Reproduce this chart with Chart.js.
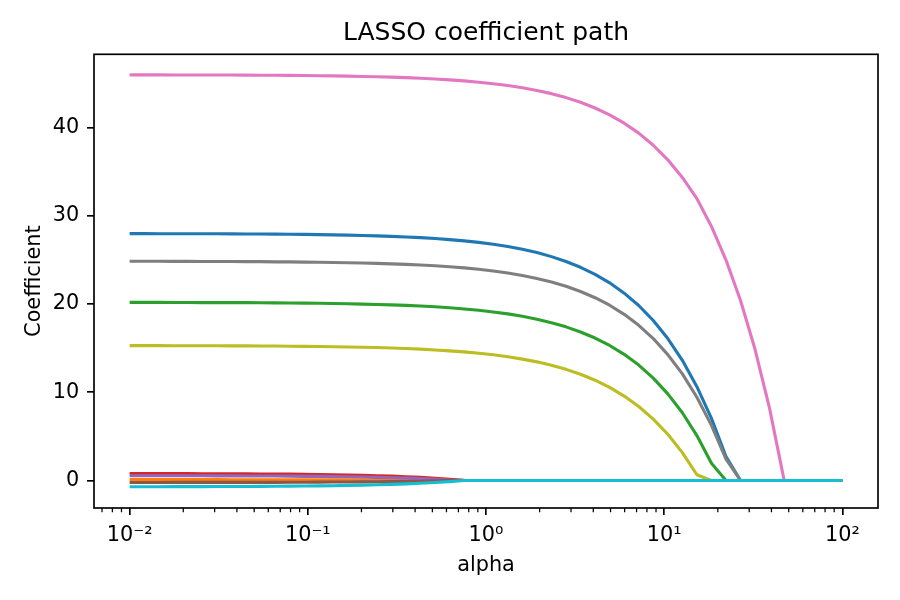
<!DOCTYPE html>
<html>
<head>
<meta charset="utf-8">
<script src="https://cdn.jsdelivr.net/npm/chart.js@4.4.1/dist/chart.umd.min.js"></script>
<style>
  html, body { margin: 0; padding: 0; background: #ffffff; }
  #wrap { width: 900px; height: 600px; }
</style>
</head>
<body>
<div id="wrap"><canvas id="c" width="900" height="600"></canvas></div>
<script>
// ---- data ----
const alphas = [0.01, 0.01207, 0.01456, 0.01758, 0.02121, 0.0256, 0.03089, 0.03728, 0.04498, 0.05429,
  0.06551, 0.07906, 0.09541, 0.1151, 0.1389, 0.1677, 0.2024, 0.2442, 0.2947, 0.3556,
  0.4292, 0.5179, 0.6251, 0.7543, 0.9103, 1.0985, 1.3257, 1.5999, 1.9307, 2.33,
  2.8118, 3.3932, 4.0949, 4.9417, 5.9636, 7.1969, 8.6851, 10.481, 12.649, 15.264,
  18.421, 22.23, 26.827, 32.375, 39.069, 47.149, 56.899, 68.665, 82.864, 100];

const coefBlue = [27.99, 27.99, 27.98, 27.98, 27.98, 27.97, 27.97, 27.96, 27.95, 27.94,
  27.93, 27.91, 27.90, 27.87, 27.85, 27.82, 27.78, 27.73, 27.68, 27.61,
  27.53, 27.43, 27.31, 27.17, 27.00, 26.79, 26.53, 26.22, 25.84, 25.38,
  24.83, 24.17, 23.37, 22.41, 21.24, 19.84, 18.14, 16.09, 13.62, 10.64,
  7.04, 2.70, 0, 0, 0, 0, 0, 0, 0, 0];

const coefOrange = [0.10, 0.10, 0.10, 0.10, 0.10, 0.10, 0.10, 0.09, 0.09, 0.09,
  0.09, 0.09, 0.08, 0.08, 0.08, 0.07, 0.07, 0.06, 0.05, 0.04,
  0.03, 0.02, 0, 0, 0, 0, 0, 0, 0, 0,
  0, 0, 0, 0, 0, 0, 0, 0, 0, 0,
  0, 0, 0, 0, 0, 0, 0, 0, 0, 0];

const coefGreen = [20.19, 20.19, 20.19, 20.18, 20.18, 20.17, 20.17, 20.16, 20.16, 20.15,
  20.14, 20.12, 20.11, 20.09, 20.06, 20.03, 20.00, 19.96, 19.91, 19.85,
  19.78, 19.69, 19.58, 19.45, 19.30, 19.11, 18.89, 18.62, 18.29, 17.89,
  17.42, 16.84, 16.15, 15.31, 14.30, 13.08, 11.60, 9.82, 7.68, 5.09,
  1.96, 0, 0, 0, 0, 0, 0, 0, 0, 0];

const coefRed = [0.79, 0.79, 0.78, 0.78, 0.78, 0.77, 0.77, 0.76, 0.75, 0.74,
  0.73, 0.72, 0.70, 0.68, 0.65, 0.62, 0.59, 0.54, 0.49, 0.43,
  0.35, 0.26, 0.14, 0.01, 0, 0, 0, 0, 0, 0,
  0, 0, 0, 0, 0, 0, 0, 0, 0, 0,
  0, 0, 0, 0, 0, 0, 0, 0, 0, 0];

const coefPurple = [0.54, 0.54, 0.54, 0.54, 0.53, 0.53, 0.52, 0.52, 0.51, 0.51,
  0.50, 0.49, 0.47, 0.46, 0.44, 0.42, 0.39, 0.35, 0.31, 0.27,
  0.21, 0.14, 0.05, 0, 0, 0, 0, 0, 0, 0,
  0, 0, 0, 0, 0, 0, 0, 0, 0, 0,
  0, 0, 0, 0, 0, 0, 0, 0, 0, 0];

const coefBrown = [-0.23, -0.23, -0.23, -0.22, -0.22, -0.22, -0.22, -0.22, -0.21, -0.21,
  -0.21, -0.20, -0.20, -0.19, -0.18, -0.17, -0.16, -0.14, -0.13, -0.11,
  -0.08, -0.05, -0.01, 0, 0, 0, 0, 0, 0, 0,
  0, 0, 0, 0, 0, 0, 0, 0, 0, 0,
  0, 0, 0, 0, 0, 0, 0, 0, 0, 0];

const coefPink = [45.99, 45.99, 45.99, 45.98, 45.98, 45.98, 45.97, 45.97, 45.96, 45.95,
  45.94, 45.93, 45.91, 45.89, 45.87, 45.85, 45.81, 45.78, 45.73, 45.67,
  45.61, 45.52, 45.42, 45.31, 45.16, 44.99, 44.78, 44.53, 44.22, 43.86,
  43.41, 42.88, 42.23, 41.45, 40.51, 39.38, 38.01, 36.36, 34.36, 31.96,
  28.80, 24.99, 20.40, 14.85, 8.15, 0, 0, 0, 0, 0];

const coefGray = [24.85, 24.85, 24.85, 24.84, 24.84, 24.83, 24.83, 24.82, 24.81, 24.81,
  24.79, 24.78, 24.76, 24.74, 24.72, 24.69, 24.66, 24.61, 24.56, 24.50,
  24.43, 24.34, 24.23, 24.10, 23.94, 23.75, 23.52, 23.24, 22.91, 22.51,
  22.02, 21.43, 20.72, 19.87, 18.84, 17.59, 16.09, 14.27, 12.08, 9.44,
  6.25, 2.41, 0, 0, 0, 0, 0, 0, 0, 0];

const coefOlive = [15.29, 15.29, 15.29, 15.28, 15.28, 15.28, 15.27, 15.26, 15.26, 15.25,
  15.24, 15.22, 15.21, 15.19, 15.17, 15.14, 15.11, 15.07, 15.02, 14.96,
  14.89, 14.80, 14.70, 14.58, 14.43, 14.25, 14.03, 13.76, 13.45, 13.06,
  12.60, 12.04, 11.37, 10.56, 9.57, 8.39, 6.96, 5.24, 3.16, 0.65,
  0, 0, 0, 0, 0, 0, 0, 0, 0, 0];

const coefCyan = [-0.71, -0.71, -0.71, -0.70, -0.70, -0.70, -0.69, -0.68, -0.68, -0.67,
  -0.66, -0.64, -0.63, -0.61, -0.59, -0.56, -0.53, -0.49, -0.44, -0.38,
  -0.31, -0.23, -0.13, 0, 0, 0, 0, 0, 0, 0,
  0, 0, 0, 0, 0, 0, 0, 0, 0, 0,
  0, 0, 0, 0, 0, 0, 0, 0, 0, 0];

const seriesValues = [coefBlue, coefOrange, coefGreen, coefRed, coefPurple,
  coefBrown, coefPink, coefGray, coefOlive, coefCyan];

const xTickValues = [0.01, 0.1, 1, 10, 100];
const xTickLabels = ['10\u207B\u00B2', '10\u207B\u00B9', '10\u2070', '10\u00B9', '10\u00B2'];
const yTickValues = [0, 10, 20, 30, 40];

// ---- styles ----
const seriesColors = ['#1f77b4', '#ff7f0e', '#2ca02c', '#d62728', '#9467bd',
  '#8c564b', '#e377c2', '#7f7f7f', '#bcbd22', '#17becf'];
const FONT = 'DejaVu Sans';
const TICK_W = 1.67;

const datasets = seriesValues.map((vals, i) => ({
  label: 'coef ' + i,
  data: alphas.map((a, j) => ({ x: a, y: vals[j] })),
  borderColor: seriesColors[i],
  backgroundColor: seriesColors[i],
  borderWidth: 3.1,
  pointRadius: 0,
  pointHoverRadius: 0,
  tension: 0,
  fill: false,
  borderJoinStyle: 'round',
  borderCapStyle: 'butt',
  order: seriesValues.length - i
}));

const framePlugin = {
  id: 'frame',
  afterDatasetsDraw(chart) {
    const { ctx, chartArea: a } = chart;
    ctx.save();
    ctx.strokeStyle = '#000';
    ctx.lineWidth = TICK_W;
    ctx.strokeRect(a.left, a.top, a.right - a.left, a.bottom - a.top);
    // minor ticks on the log x axis
    const xs = chart.scales.x;
    ctx.beginPath();
    for (let k = -3; k <= 2; k++) {
      for (let m = 2; m <= 9; m++) {
        const v = m * Math.pow(10, k);
        if (v < xs.min || v > xs.max) continue;
        const px = xs.getPixelForValue(v);
        ctx.moveTo(px, a.bottom);
        ctx.lineTo(px, a.bottom + 4.2);
      }
    }
    ctx.lineWidth = 1.25;
    ctx.stroke();
    ctx.restore();
  }
};

new Chart(document.getElementById('c'), {
  type: 'line',
  data: { datasets },
  options: {
    responsive: false,
    animation: false,
    devicePixelRatio: 1,
    layout: { padding: { left: 0, right: 22, top: 0, bottom: 0 } },
    plugins: {
      legend: { display: false },
      tooltip: { enabled: false },
      title: { display: false }
    },
    scales: {
      x: {
        type: 'logarithmic',
        position: 'bottom',
        min: 0.00631,
        max: 158.5,
        afterBuildTicks: (s) => { s.ticks = xTickValues.map(v => ({ value: v })); },
        afterFit: (s) => { s.height = 92; },
        border: { display: false },
        grid: { display: true, drawOnChartArea: false, drawTicks: true, tickLength: 7,
                tickWidth: TICK_W, tickColor: '#000', lineWidth: TICK_W, color: '#000' },
        ticks: {
          autoSkip: false, maxRotation: 0, minRotation: 0, padding: 7.7,
          color: '#000', font: { family: FONT, size: 20.8, lineHeight: 1.2 },
          callback: (v, i) => xTickLabels[i]
        },
        title: {
          display: true, text: 'alpha', color: '#000',
          font: { family: FONT, size: 20.8, lineHeight: 1.2 },
          padding: { top: 0, bottom: 22.2 }
        }
      },
      xTitle: {
        type: 'linear',
        position: 'top',
        min: 0,
        max: 1,
        afterFit: (s) => { s.height = 54.3; },
        border: { display: false },
        grid: { display: false, drawTicks: false },
        ticks: { display: false },
        title: {
          display: true, text: 'LASSO coefficient path', color: '#000',
          font: { family: FONT, size: 25, weight: 'normal', lineHeight: 1.2 },
          padding: { top: 18.65, bottom: 0 }
        }
      },
      y: {
        type: 'linear',
        min: -3.12,
        max: 48.32,
        afterBuildTicks: (s) => { s.ticks = yTickValues.map(v => ({ value: v })); },
        afterFit: (s) => { s.width = 94; },
        border: { display: false },
        grid: { display: true, drawOnChartArea: false, drawTicks: true, tickLength: 7,
                tickWidth: TICK_W, tickColor: '#000', lineWidth: TICK_W, color: '#000' },
        ticks: {
          padding: 7.7, color: '#000',
          font: { family: FONT, size: 20.8, lineHeight: 1.2 },
          callback: (v) => String(v)
        },
        title: {
          display: true, text: 'Coefficient', color: '#000',
          font: { family: FONT, size: 20.8, lineHeight: 1.2 },
          padding: { top: 22, bottom: 0 }
        }
      }
    }
  },
  plugins: [framePlugin]
});
</script>
</body>
</html>
